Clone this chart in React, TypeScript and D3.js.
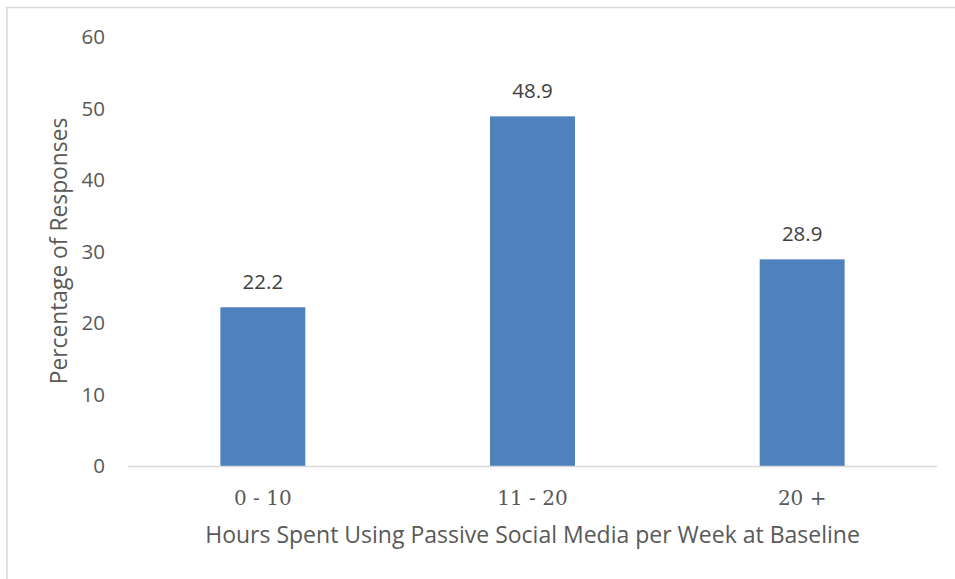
import React from "react";
import * as d3 from "d3";

const categories = ["0 - 10", "11 - 20", "20 +"];
const values = [22.2, 48.9, 28.9];
const yTicks = [0, 10, 20, 30, 40, 50, 60];

const xAxisTitle = "Hours Spent Using Passive Social Media per Week at Baseline";
const yAxisTitle = "Percentage of Responses";

const W = 955;
const H = 579;
const plot = { left: 128, right: 937, top: 37, bottom: 466 };

const sansFont = "'Open Sans', 'Liberation Sans', sans-serif";
const serifFont = "'DejaVu Serif', 'Liberation Serif', serif";

export default function App() {
  const x = d3
    .scaleBand<string>()
    .domain(categories)
    .range([plot.left, plot.right])
    .paddingInner(0.685)
    .paddingOuter(0.3425);
  const y = d3.scaleLinear().domain([0, 60]).range([plot.bottom, plot.top]);

  return (
    <svg
      width={W}
      height={H}
      style={{ position: "absolute", left: 0, top: 0, background: "#fff" }}
    >
      {/* chart frame (top and left edges) */}
      <line x1={6} x2={W} y1={7.5} y2={7.5} stroke="#d9d9d9" strokeWidth={1.5} />
      <line x1={7} x2={7} y1={7} y2={H} stroke="#d9d9d9" strokeWidth={1.5} />

      {/* y tick labels */}
      {yTicks.map((t) => (
        <text
          key={t}
          x={105}
          y={y(t)}
          dy="0.36em"
          textAnchor="end"
          fontFamily={sansFont}
          fontSize={20.5}
          fill="#595959"
        >
          {t}
        </text>
      ))}

      {/* bars */}
      {categories.map((c, i) => (
        <rect
          key={c}
          x={x(c)}
          y={y(values[i])}
          width={x.bandwidth()}
          height={y(0) - y(values[i])}
          fill="#4f81bd"
        />
      ))}

      {/* baseline */}
      <line
        x1={plot.left}
        x2={plot.right}
        y1={plot.bottom + 0.5}
        y2={plot.bottom + 0.5}
        stroke="#d9d9d9"
        strokeWidth={1.5}
      />

      {/* value labels */}
      {categories.map((c, i) => (
        <text
          key={c}
          x={(x(c) ?? 0) + x.bandwidth() / 2}
          y={y(values[i]) - 18}
          textAnchor="middle"
          fontFamily={sansFont}
          fontSize={20.5}
          fill="#404040"
        >
          {values[i].toFixed(1)}
        </text>
      ))}

      {/* x tick labels */}
      {categories.map((c) => (
        <text
          key={c}
          x={(x(c) ?? 0) + x.bandwidth() / 2}
          y={505}
          textAnchor="middle"
          fontFamily={serifFont}
          fontSize={20}
          fill="#595959"
        >
          {c}
        </text>
      ))}

      {/* axis titles */}
      <text
        x={(plot.left + plot.right) / 2}
        y={543}
        textAnchor="middle"
        fontFamily={sansFont}
        fontSize={23}
        fill="#595959"
      >
        {xAxisTitle}
      </text>
      <text
        transform={`translate(67, 251) rotate(-90)`}
        textAnchor="middle"
        fontFamily={sansFont}
        fontSize={22.8}
        fill="#595959"
      >
        {yAxisTitle}
      </text>
    </svg>
  );
}
